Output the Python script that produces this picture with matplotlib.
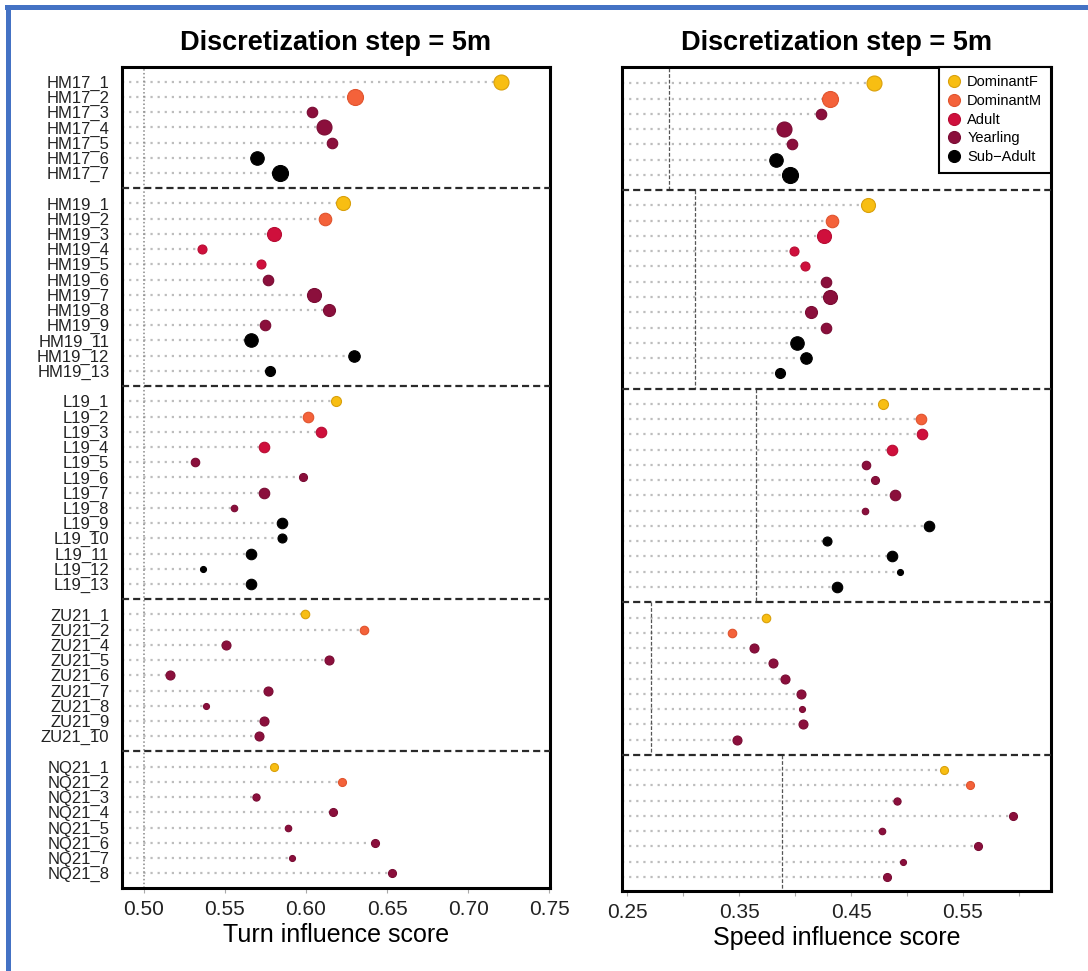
import matplotlib
matplotlib.use("Agg")
import matplotlib.pyplot as plt
from matplotlib.lines import Line2D
from matplotlib.patches import Rectangle

plt.rcParams['font.family'] = ['Liberation Sans', 'DejaVu Sans']

# --- data ---
groups = ["HM17", "HM19", "L19", "ZU21", "NQ21"]
group_ids = [
    [1, 2, 3, 4, 5, 6, 7],
    [1, 2, 3, 4, 5, 6, 7, 8, 9, 11, 12, 13],
    [1, 2, 3, 4, 5, 6, 7, 8, 9, 10, 11, 12, 13],
    [1, 2, 4, 5, 6, 7, 8, 9, 10],
    [1, 2, 3, 4, 5, 6, 7, 8],
]
# F=DominantF, M=DominantM, A=Adult, Y=Yearling, S=Sub-Adult
status = (list("FMYYYSS") + list("FMAAAYYYYSSS") + list("FMAAYYYYSSSSS")
          + list("FMYYYYYYY") + list("FMYYYYYY"))

turn = [0.720, 0.630, 0.604, 0.611, 0.616, 0.570, 0.584,
        0.623, 0.612, 0.5805, 0.536, 0.572, 0.5766, 0.605, 0.6144, 0.5748, 0.5663, 0.6294, 0.578,
        0.6185, 0.6012, 0.6092, 0.5741, 0.5317, 0.5981, 0.5743, 0.5559, 0.585, 0.585, 0.5659, 0.5362, 0.5659,
        0.5996, 0.6359, 0.5509, 0.6142, 0.5163, 0.5766, 0.5386, 0.5739, 0.5709,
        0.5805, 0.622, 0.569, 0.6166, 0.5891, 0.6427, 0.5914, 0.6528]

speed = [0.4703, 0.4313, 0.4229, 0.3899, 0.3976, 0.3833, 0.3955,
         0.4649, 0.4333, 0.4259, 0.3988, 0.4086, 0.4280, 0.4315, 0.4143, 0.4280, 0.4021, 0.4098, 0.3869,
         0.4785, 0.5124, 0.5137, 0.4866, 0.4637, 0.4715, 0.4896, 0.4629, 0.5194, 0.4283, 0.4866, 0.4941, 0.4376,
         0.3738, 0.3438, 0.3633, 0.3805, 0.3907, 0.4054, 0.4066, 0.4075, 0.3486,
         0.5329, 0.5566, 0.4914, 0.5951, 0.4779, 0.5632, 0.4964, 0.4818]

# relative point size (cex)
cex = [1.5, 1.6, 1.05, 1.5, 1.05, 1.35, 1.6,
       1.4, 1.25, 1.4, 0.9, 0.9, 1.05, 1.4, 1.2, 1.05, 1.35, 1.15, 1.0,
       1.0, 1.05, 1.05, 1.05, 0.85, 0.8, 1.05, 0.65, 1.05, 0.9, 1.05, 0.6, 1.05,
       0.85, 0.85, 0.9, 0.9, 0.9, 0.9, 0.6, 0.9, 0.9,
       0.8, 0.8, 0.72, 0.8, 0.65, 0.8, 0.6, 0.8]

speed_group_ref = [0.2879, 0.3105, 0.3648, 0.2716, 0.388]

status_codes = ["F", "M", "A", "Y", "S"]
status_names = ["DominantF", "DominantM", "Adult", "Yearling", "Sub\u2212Adult"]
fill = {"F": "#F8BE12", "M": "#F4623A", "A": "#CF0F3C", "Y": "#8B0F3C", "S": "#000000"}
edge = {"F": "#D9A00C", "M": "#E0542E", "A": "#B80D34", "Y": "#7A0C34", "S": "#000000"}

# --- row layout: one empty slot between groups holds the dashed separator ---
labels, ypos, seps, spans = [], [], [], []
slot = 0
for g, ids in zip(groups, group_ids):
    start = slot
    for i in ids:
        labels.append(f"{g}_{i}")
        ypos.append(slot)
        slot += 1
    spans.append((start - 1, slot))
    if g != groups[-1]:
        seps.append(slot)
        slot += 1

fig = plt.figure(figsize=(10.88, 9.71), dpi=100)
ax1 = fig.add_axes([0.1121, 0.0855, 0.3934, 0.8458])
ax2 = fig.add_axes([0.5717, 0.0827, 0.3943, 0.8486])


def dot_panel(ax, values, xlim, ylim):
    ax.set_xlim(xlim)
    ax.set_ylim(ylim)
    for y, v, s, c in zip(ypos, values, status, cex):
        ax.plot([xlim[0], v], [y, y], color='#bdbdbd', lw=1.6,
                ls=(0, (1, 2.2)), zorder=1)
        ax.plot(v, y, 'o', ms=c * 7.2, mfc=fill[s], mec=edge[s], mew=0.8, zorder=4)
    for sy in seps:
        ax.axhline(sy, color='#2a2a2a', lw=1.6, ls=(0, (3.2, 1.8)), zorder=3)
    for sp in ax.spines.values():
        sp.set_linewidth(2.2)
        sp.set_color('black')
    ax.tick_params(axis='x', labelsize=15, length=3.5, color='#aaaaaa',
                   width=0.8, pad=5, labelcolor='#222222')
    ax.set_title("Discretization step = 5m", fontsize=19.5,
                 fontweight='bold', pad=12)


# left panel: turn
dot_panel(ax1, turn, (0.4865, 0.7505), (52.97, -0.985))
ax1.axvline(0.5, color='#888888', lw=1.1, ls=(0, (1, 1.5)), zorder=2)
ax1.set_yticks(ypos)
ax1.set_yticklabels(labels, fontsize=12, color='#222222')
ax1.tick_params(axis='y', length=0, pad=9)
ticks1 = [0.50, 0.55, 0.60, 0.65, 0.70, 0.75]
ax1.set_xticks(ticks1)
ax1.set_xticklabels([f"{t:.2f}" for t in ticks1])
ax1.set_xlabel("Turn influence score", fontsize=18, labelpad=3)

# right panel: speed
ylim2 = (52.9, -1.09)
dot_panel(ax2, speed, (0.2455, 0.6286), ylim2)
for ref, (top, bot) in zip(speed_group_ref, spans):
    top = max(top, ylim2[1])
    bot = min(bot, ylim2[0])
    ax2.plot([ref, ref], [top, bot], color='#555555', lw=0.9,
             ls=(0, (3, 1.5)), zorder=2)
ax2.set_yticks([])
ticks2 = [0.25, 0.30, 0.35, 0.40, 0.45, 0.50, 0.55, 0.60]
ax2.set_xticks(ticks2)
ax2.set_xticklabels([f"{t:.2f}" if i % 2 == 0 else "" for i, t in enumerate(ticks2)])
ax2.set_xlabel("Speed influence score", fontsize=18, labelpad=3)

handles = [Line2D([], [], marker='o', ls='', ms=12 * 0.72, mfc=fill[c], mec=edge[c], mew=0.8)
           for c in status_codes]
leg = ax2.legend(handles, status_names, loc='upper right', bbox_to_anchor=(1, 1),
                 borderaxespad=0, fontsize=10.5, frameon=True, fancybox=False,
                 edgecolor='black', handlelength=0.8, handletextpad=0.5,
                 labelspacing=0.32, borderpad=0.6, framealpha=1)
leg.get_frame().set_linewidth(1.5)
leg.set_zorder(10)

# blue frame of the original figure
fig.add_artist(Rectangle((5 / 1088, 1 - 10 / 971), 1.0, 5 / 971,
                         transform=fig.transFigure, color='#4472C4', lw=0))
fig.add_artist(Rectangle((6 / 1088, 0), 5 / 1088, 1 - 5 / 971,
                         transform=fig.transFigure, color='#4472C4', lw=0))

fig.savefig("out.png", dpi=100)
